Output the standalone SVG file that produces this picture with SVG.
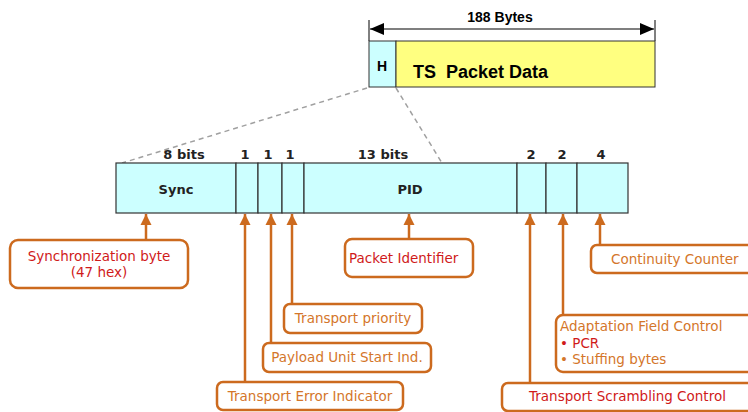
<svg xmlns="http://www.w3.org/2000/svg" width="748" height="412" viewBox="0 0 748 412">
<style>
.b{font-family:Arial,"Liberation Sans",sans-serif;font-weight:bold;fill:#000}
.f{font-family:"DejaVu Sans",Verdana,sans-serif;font-weight:bold;font-size:13px;fill:#222}
.l{font-family:"DejaVu Sans",Verdana,sans-serif;font-size:13.5px;fill:#d4762a}
.r{fill:#d01a1a}
.box{fill:#fff;stroke:#cc6a1e;stroke-width:2.5}
.cell{fill:#ccffff;stroke:#333;stroke-width:1.2}
.con{stroke:#cc6a1e;stroke-width:2.5;fill:none}
.dash{stroke:#a0a0a0;stroke-width:1.5;stroke-dasharray:5,4;fill:none}
</style>
<defs>
<marker id="ah" viewBox="0 0 10 10" refX="10" refY="5" markerWidth="4.5" markerHeight="4.5" orient="auto"><path d="M0,0 L10,5 L0,10 z" fill="#cc6a1e"/></marker>
</defs>

<g id="packet">
<text class="b" x="500" y="22" font-size="14" text-anchor="middle">188 Bytes</text>
<line x1="369" y1="20" x2="369" y2="41" stroke="#000" stroke-width="1"/>
<line x1="655" y1="20" x2="655" y2="41" stroke="#000" stroke-width="1"/>
<line x1="370" y1="29" x2="654" y2="29" stroke="#000" stroke-width="1.2"/>
<path d="M370,29 L384,23 L384,35 z" fill="#000"/>
<path d="M654,29 L640,23 L640,35 z" fill="#000"/>
<rect x="369" y="41" width="27" height="46" fill="#ccffff" stroke="#333" stroke-width="1"/>
<rect x="396" y="41" width="259" height="46" fill="#ffff80" stroke="#333" stroke-width="1"/>
<text class="b" x="382" y="71" font-size="14" text-anchor="middle">H</text>
<text class="b" x="413" y="78" font-size="18" style="white-space:pre">TS  Packet Data</text>
</g>

<g id="zoomlines">
<line class="dash" x1="367" y1="88" x2="122" y2="163"/>
<line class="dash" x1="396" y1="88" x2="442" y2="163"/>
</g>

<g id="header">
<rect class="cell" x="116" y="163" width="120" height="50"/>
<rect class="cell" x="236" y="163" width="22" height="50"/>
<rect class="cell" x="258" y="163" width="24" height="50"/>
<rect class="cell" x="282" y="163" width="22" height="50"/>
<rect class="cell" x="304" y="163" width="213" height="50"/>
<rect class="cell" x="517" y="163" width="29" height="50"/>
<rect class="cell" x="546" y="163" width="31" height="50"/>
<rect class="cell" x="577" y="163" width="51" height="50"/>
<text class="f" x="184" y="159" text-anchor="middle">8 bits</text>
<text class="f" x="245" y="159" text-anchor="middle">1</text>
<text class="f" x="268" y="159" text-anchor="middle">1</text>
<text class="f" x="290" y="159" text-anchor="middle">1</text>
<text class="f" x="383" y="159" text-anchor="middle">13 bits</text>
<text class="f" x="531" y="159" text-anchor="middle">2</text>
<text class="f" x="562" y="159" text-anchor="middle">2</text>
<text class="f" x="601" y="159" text-anchor="middle">4</text>
<text class="f" x="176" y="194" text-anchor="middle">Sync</text>
<text class="f" x="410" y="194" text-anchor="middle">PID</text>
</g>

<g id="connectors">
<line class="con" x1="146" y1="240" x2="146" y2="214" marker-end="url(#ah)"/>
<line class="con" x1="245" y1="382" x2="245" y2="214" marker-end="url(#ah)"/>
<line class="con" x1="271" y1="343" x2="271" y2="214" marker-end="url(#ah)"/>
<line class="con" x1="292" y1="304" x2="292" y2="214" marker-end="url(#ah)"/>
<line class="con" x1="409" y1="239" x2="409" y2="214" marker-end="url(#ah)"/>
<line class="con" x1="530" y1="383" x2="530" y2="214" marker-end="url(#ah)"/>
<line class="con" x1="563" y1="315" x2="563" y2="214" marker-end="url(#ah)"/>
<line class="con" x1="600" y1="245" x2="600" y2="214" marker-end="url(#ah)"/>
</g>

<g id="sync-label">
<rect class="box" x="10" y="240" width="178" height="48" rx="8"/>
<text class="l r" x="99" y="261" text-anchor="middle">Synchronization byte</text>
<text class="l r" x="99" y="277" text-anchor="middle">(47 hex)</text>
</g>
<g id="pid-label">
<rect class="box" x="345" y="239" width="128" height="38" rx="7"/>
<text class="l r" x="349" y="263">Packet Identifier</text>
</g>
<g id="tp-label">
<rect class="box" x="284" y="304" width="138" height="29" rx="6"/>
<text class="l" x="353" y="323" text-anchor="middle">Transport priority</text>
</g>
<g id="pusi-label">
<rect class="box" x="263" y="343" width="168" height="29" rx="6"/>
<text class="l" x="347" y="362" text-anchor="middle">Payload Unit Start Ind.</text>
</g>
<g id="tei-label">
<rect class="box" x="217" y="382" width="186" height="28" rx="6"/>
<text class="l" x="310" y="401" text-anchor="middle">Transport Error Indicator</text>
</g>
<g id="cc-label">
<rect class="box" x="591" y="245" width="170" height="28" rx="6"/>
<text class="l" x="611" y="264">Continuity Counter</text>
</g>
<g id="afc-label">
<rect class="box" x="556" y="315" width="205" height="57" rx="7"/>
<text class="l" x="560" y="331">Adaptation Field Control</text>
<text class="l r" x="560" y="348">• PCR</text>
<text class="l" x="560" y="364">• Stuffing bytes</text>
</g>
<g id="tsc-label">
<rect class="box" x="502" y="383" width="260" height="28" rx="6"/>
<text class="l r" x="529" y="401">Transport Scrambling Control</text>
</g>
</svg>
